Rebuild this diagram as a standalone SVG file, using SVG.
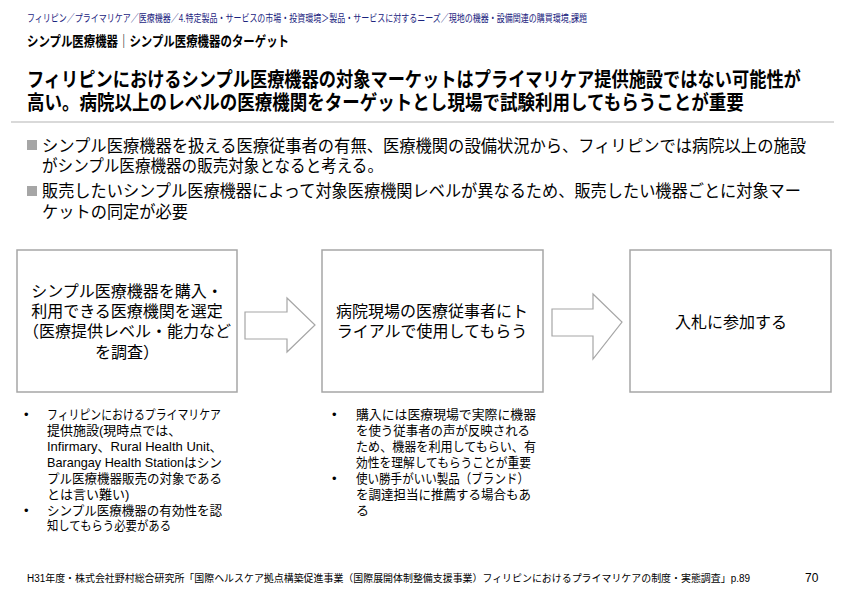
<svg xmlns="http://www.w3.org/2000/svg" width="842" height="595" viewBox="0 0 842 595">
<style>
text{font-family:"Liberation Sans","Noto Sans CJK JP",sans-serif;fill:#000}
.crumb{font-size:10.5px;fill:#1a237e}
.sub{font-size:14px;font-weight:700}
.title{font-size:20px;font-weight:700}
.bul{font-size:16.5px}
.box{fill:#fff;stroke:#a6a6a6;stroke-width:1.5}
.arr{fill:#fff;stroke:#a6a6a6;stroke-width:1.2}
.bt{font-size:16px;text-anchor:middle}
.note{font-size:13px}
.foot{font-size:10px}
</style>
<rect width="842" height="595" fill="#fff"/>
<g id="header">
<text class="crumb" x="27" y="22" textLength="560" lengthAdjust="spacingAndGlyphs">フィリピン／プライマリケア／医療機器／4.特定製品・サービスの市場・投資環境＞製品・サービスに対するニーズ／現地の機器・設備関連の購買環境,課題</text>
<text class="sub" x="27" y="46" textLength="262" lengthAdjust="spacingAndGlyphs">シンプル医療機器｜シンプル医療機器のターゲット</text>
<text class="title" transform="translate(27,87) scale(0.861,1)" x="0" y="0">フィリピンにおけるシンプル医療機器の対象マーケットはプライマリケア提供施設ではない可能性が</text>
<text class="title" transform="translate(27,110) scale(0.876,1)" x="0" y="0">高い。病院以上のレベルの医療機関をターゲットとし現場で試験利用してもらうことが重要</text>
<line x1="11" y1="122" x2="834" y2="122" stroke="#d9d9d9" stroke-width="2"/>
</g>
<g id="bullets">
<rect x="27" y="140" width="10" height="10" fill="#a6a6a6"/>
<text class="bul" x="42" y="152" textLength="764" lengthAdjust="spacingAndGlyphs">シンプル医療機器を扱える医療従事者の有無、医療機関の設備状況から、フィリピンでは病院以上の施設</text>
<text class="bul" x="42" y="172" textLength="341" lengthAdjust="spacingAndGlyphs">がシンプル医療機器の販売対象となると考える。</text>
<rect x="27" y="186" width="10" height="10" fill="#a6a6a6"/>
<text class="bul" x="42" y="197" textLength="759" lengthAdjust="spacingAndGlyphs">販売したいシンプル医療機器によって対象医療機関レベルが異なるため、販売したい機器ごとに対象マー</text>
<text class="bul" x="42" y="218" textLength="146" lengthAdjust="spacingAndGlyphs">ケットの同定が必要</text>
</g>
<g id="connectors">
<path class="arr" d="M245,312 H287 V298 L315,325 L287,352 V339 H245 Z"/>
<path class="arr" d="M552,309 H593 V294 L622,322 L593,359 V336 H552 Z"/>
</g>
<g id="node1">
<rect class="box" x="17" y="250" width="220" height="142"/>
<text class="bt" x="127" y="297">シンプル医療機器を購入・</text>
<text class="bt" x="127" y="317">利用できる医療機関を選定</text>
<text class="bt" x="127" y="337">（医療提供レベル・能力など</text>
<text class="bt" x="127" y="358">を調査）</text>
</g>
<g id="node2">
<rect class="box" x="322" y="250" width="221" height="142"/>
<text class="bt" x="432" y="317">病院現場の医療従事者にト</text>
<text class="bt" x="432" y="337">ライアルで使用してもらう</text>
</g>
<g id="node3">
<rect class="box" x="630" y="250" width="201" height="142"/>
<text class="bt" x="731" y="328">入札に参加する</text>
</g>
<g id="notes-left">
<text class="note" x="24" y="419">•</text>
<text class="note" x="47" y="419" textLength="174" lengthAdjust="spacingAndGlyphs">フィリピンにおけるプライマリケア</text>
<text class="note" x="47" y="435">提供施設(現時点では、</text>
<text class="note" x="47" y="451">Infirmary、Rural Health Unit、</text>
<text class="note" x="47" y="467" textLength="175" lengthAdjust="spacingAndGlyphs">Barangay Health Stationはシン</text>
<text class="note" x="47" y="483" textLength="175" lengthAdjust="spacingAndGlyphs">プル医療機器販売の対象である</text>
<text class="note" x="47" y="499">とは言い難い)</text>
<text class="note" x="24" y="515">•</text>
<text class="note" x="47" y="515" textLength="175" lengthAdjust="spacingAndGlyphs">シンプル医療機器の有効性を認</text>
<text class="note" x="47" y="530" textLength="124" lengthAdjust="spacingAndGlyphs">知してもらう必要がある</text>
</g>
<g id="notes-right">
<text class="note" x="332" y="419">•</text>
<text class="note" x="356" y="419" textLength="180" lengthAdjust="spacingAndGlyphs">購入には医療現場で実際に機器</text>
<text class="note" x="356" y="435" textLength="174" lengthAdjust="spacingAndGlyphs">を使う従事者の声が反映される</text>
<text class="note" x="356" y="451" textLength="180" lengthAdjust="spacingAndGlyphs">ため、機器を利用してもらい、有</text>
<text class="note" x="356" y="467" textLength="175" lengthAdjust="spacingAndGlyphs">効性を理解してもらうことが重要</text>
<text class="note" x="332" y="483">•</text>
<text class="note" x="356" y="483" textLength="173" lengthAdjust="spacingAndGlyphs">使い勝手がいい製品（ブランド）</text>
<text class="note" x="356" y="499" textLength="175" lengthAdjust="spacingAndGlyphs">を調達担当に推薦する場合もあ</text>
<text class="note" x="356" y="515">る</text>
</g>
<g id="footer">
<text class="foot" x="27" y="582" textLength="723" lengthAdjust="spacingAndGlyphs">H31年度・株式会社野村総合研究所「国際ヘルスケア拠点構築促進事業（国際展開体制整備支援事業）フィリピンにおけるプライマリケアの制度・実態調査」p.89</text>
<text x="805" y="582" style="font-size:12px">70</text>
</g>
</svg>
